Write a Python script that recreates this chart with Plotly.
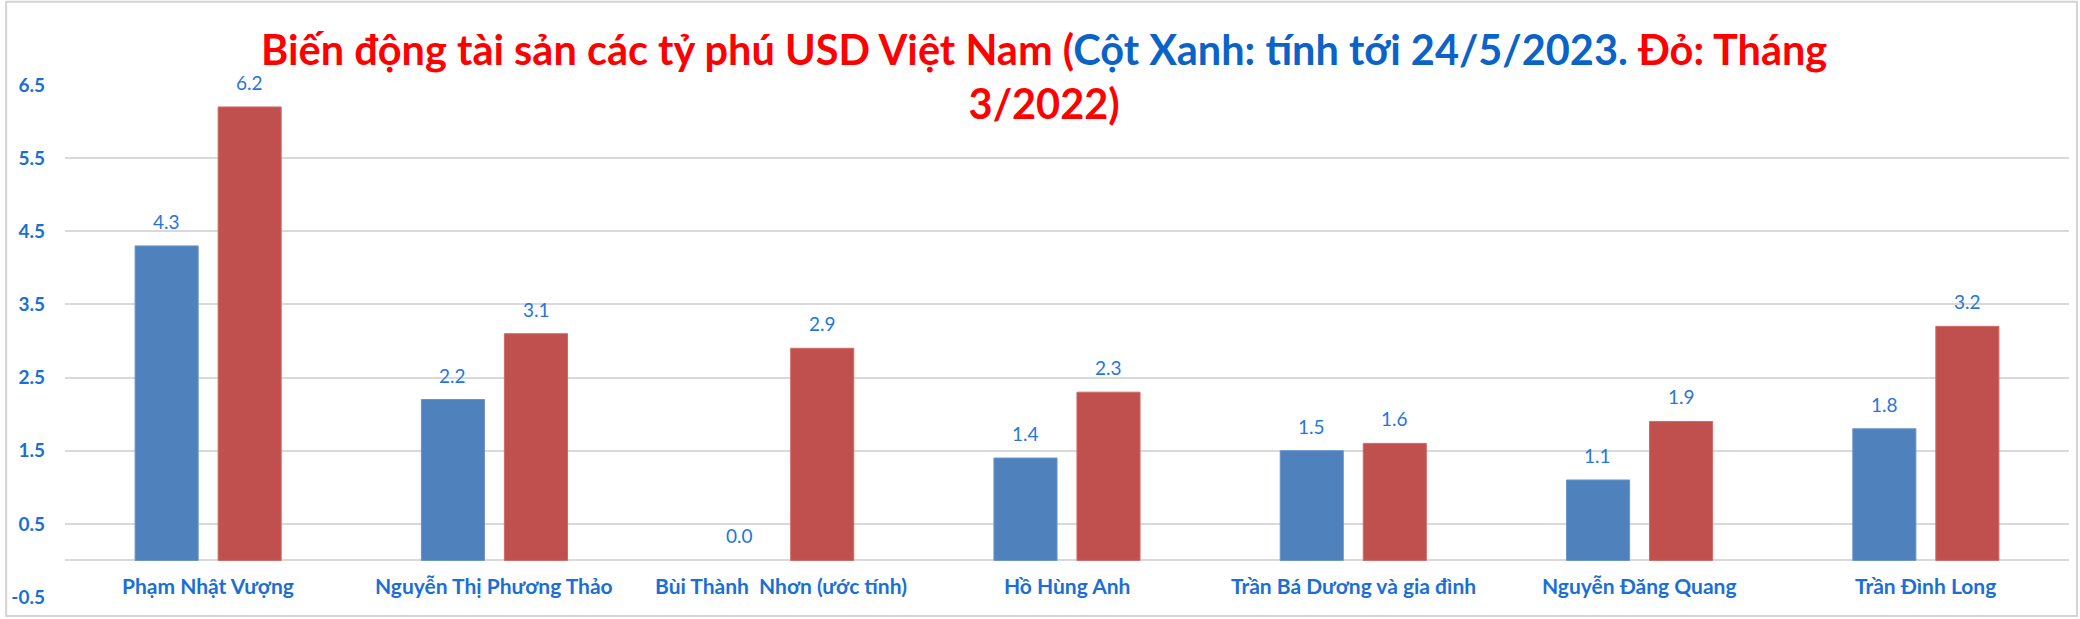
import plotly.graph_objects as go

# Tỷ phú USD Việt Nam: tài sản (tỷ USD)
names = [
    "Phạm Nhật Vượng",
    "Nguyễn Thị Phương Thảo",
    "Bùi Thành  Nhơn (ước tính)",
    "Hồ Hùng Anh",
    "Trần Bá Dương và gia đình",
    "Nguyễn Đăng Quang",
    "Trần Đình Long",
]
assets_2023 = [4.3, 2.2, 0.0, 1.4, 1.5, 1.1, 1.8]   # tính tới 24/5/2023
assets_2022 = [6.2, 3.1, 2.9, 2.3, 1.6, 1.9, 3.2]   # tháng 3/2022
y_ticks = [-0.5, 0.5, 1.5, 2.5, 3.5, 4.5, 5.5, 6.5]

BLUE_BAR = "#4f81bd"
RED_BAR = "#c0504d"
LABEL_BLUE = "#1a6fd6"
VALUE_BLUE = "#2576dc"
TITLE_RED = "#ff0000"
TITLE_BLUE = "#0b63c8"
GRID = "#d9d9d9"
FONT = "Lato"

W, H = 2080, 619
L, R, T, B = 60, 11, 85, 21
BARGAP, GROUPGAP = 0.42, 0.24
n_cat = len(names)
slot_px = (W - L - R) / n_cat * (1 - BARGAP) / 2


def edge_widths(values):
    # no outline on empty bars so nothing shows at zero
    return [1 if v else 0 for v in values]


fig = go.Figure()
fig.add_trace(go.Bar(x=names, y=assets_2023, name="24/5/2023",
                     marker=dict(color=BLUE_BAR,
                                 line=dict(color="#6a95c9", width=edge_widths(assets_2023)))))
fig.add_trace(go.Bar(x=names, y=assets_2022, name="3/2022",
                     marker=dict(color=RED_BAR,
                                 line=dict(color="#d06a67", width=edge_widths(assets_2022)))))

annotations = []
for i, n in enumerate(names):
    # value labels above each bar
    for v, off in ((assets_2023[i], -0.5), (assets_2022[i], 0.5)):
        annotations.append(dict(
            x=n, y=v, xref="x", yref="y", text=f"{v:.1f}", showarrow=False,
            xshift=off * slot_px, yshift=11, yanchor="bottom",
            font=dict(family=FONT, size=19, color=VALUE_BLUE),
        ))
    # category labels just below the zero line
    annotations.append(dict(
        x=n, y=0, xref="x", yref="y", text=n, showarrow=False,
        yanchor="top", yshift=-11,
        font=dict(family=FONT, size=21, color=LABEL_BLUE, weight="bold"),
    ))

title_text = (
    f"<span style='color:{TITLE_RED}'>Biến động tài sản các tỷ phú USD Việt Nam (</span>"
    f"<span style='color:{TITLE_BLUE}'>Cột Xanh: tính tới 24/5/2023. </span>"
    f"<span style='color:{TITLE_RED}'>Đỏ: Tháng</span><br>"
    f"<span style='color:{TITLE_RED}'>3/2022)</span>"
)
annotations.append(dict(
    x=(1041 - L) / (W - L - R), y=(H - B - 76) / (H - T - B), xref="paper", yref="paper",
    text=title_text, showarrow=False, align="center", xanchor="center", yanchor="middle",
    font=dict(family=FONT, size=41.5, weight="bold"),
))

fig.update_layout(
    width=W, height=H,
    margin=dict(l=L, r=R, t=T, b=B),
    paper_bgcolor="white", plot_bgcolor="white",
    showlegend=False,
    barmode="group", bargap=BARGAP, bargroupgap=GROUPGAP,
    annotations=annotations,
    shapes=[dict(type="rect", xref="paper", yref="paper",
                 x0=(1 - L) / (W - L - R), x1=(W - 3 - L) / (W - L - R),
                 y0=-(B - 2) / (H - T - B), y1=(H - B - 1.5) / (H - T - B),
                 line=dict(color="#d4d4d4", width=2), layer="below")],
    xaxis=dict(showticklabels=False, showgrid=False, zeroline=False, showline=False),
    yaxis=dict(range=[-0.5, 6.5], tickvals=y_ticks, ticktext=[f"{t:.1f}" for t in y_ticks],
               showgrid=True, gridcolor=GRID, gridwidth=2,
               zeroline=True, zerolinecolor=GRID, zerolinewidth=2,
               showline=False, ticks="", ticklabelstandoff=19,
               tickfont=dict(family=FONT, size=19, color=LABEL_BLUE, weight="bold")),
)

fig.write_html("out.html")
